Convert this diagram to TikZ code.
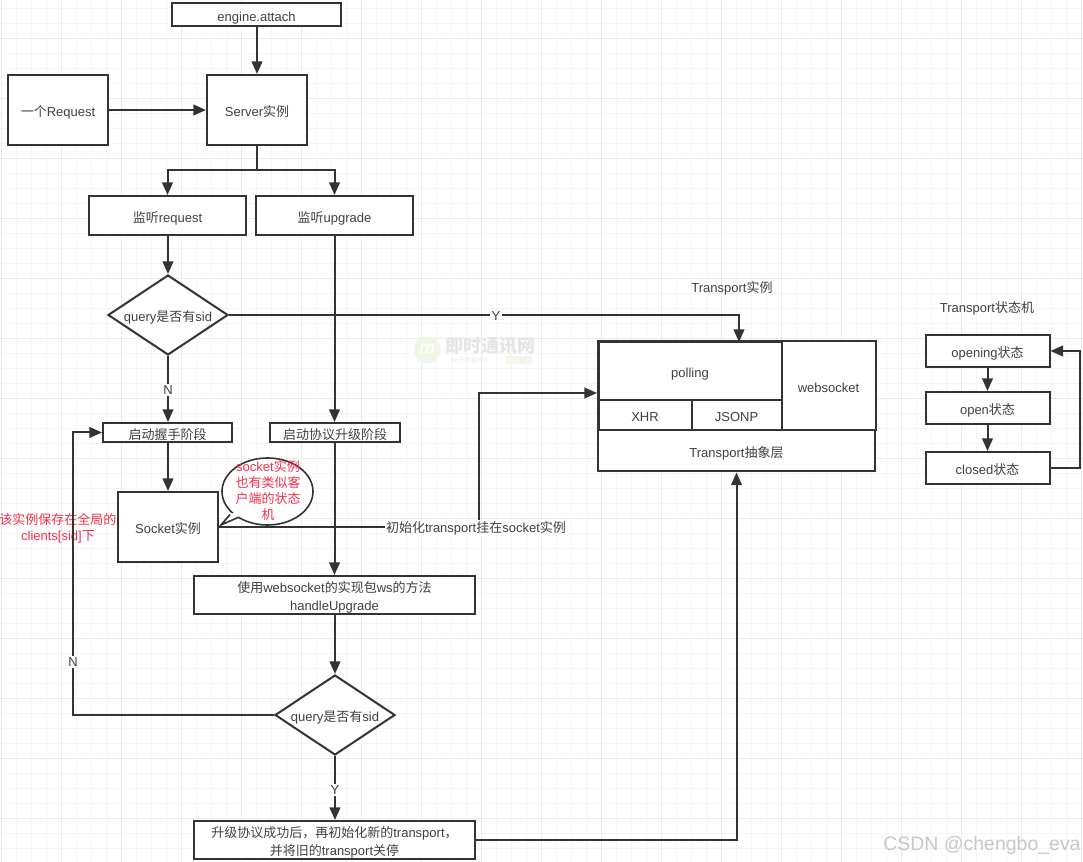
\documentclass[tikz,border=0pt]{standalone}
\usepackage{fontspec}
\setmainfont{Liberation Sans}
\newfontfamily\cjk{Noto Sans CJK SC}
\usetikzlibrary{arrows.meta,shapes.geometric,calc}
\definecolor{ink}{HTML}{333333}
\definecolor{txt}{HTML}{404040}
\definecolor{redtxt}{HTML}{F5304A}
\definecolor{gridminor}{HTML}{F5F5F5}
\definecolor{gridmajor}{HTML}{EBEBEB}
\definecolor{wmgreen}{HTML}{F0F6E6}
\newcommand{\Z}[1]{{\cjk #1}}
\tikzset{
  pxfont/.style={font=\fontsize{9.75pt}{12pt}\selectfont,text=txt},
  bxm/.style 2 args={draw=ink,line width=1.5pt,fill=white,rectangle,inner sep=0pt,
    minimum width=#1*0.75pt,minimum height=#2*0.75pt,pxfont,align=center},
  bx/.style 2 args={bxm={#1}{#2},text height=11pt,text depth=0.5pt},
  dm/.style={draw=ink,line width=1.5pt,fill=white,diamond,aspect=1.5,inner sep=0pt,
    minimum width=90pt,minimum height=60pt,pxfont,text height=10.5pt,text depth=0.5pt},
  conn/.style={draw=ink,line width=1.5pt},
  arr/.style={conn,-{Triangle[length=9.5pt,width=8pt]}},
  lab/.style={pxfont,fill=white,inner sep=1pt},
  plain/.style={pxfont,inner sep=0pt},
  redlab/.style={font=\fontsize{9.75pt}{12pt}\selectfont,text=redtxt,align=center,inner sep=0pt},
}
\begin{document}
\begin{tikzpicture}[x=0.75pt,y=-0.75pt]
\useasboundingbox (0,0) rectangle (1083,862);
\fill[white] (0,0) rectangle (1083,862);
% grid
\foreach \k in {0,...,71}{
  \pgfmathsetmacro{\gx}{1.7+15*\k}
  \draw[gridminor,line width=0.75pt] (\gx,0) -- (\gx,862);
}
\foreach \k in {0,...,57}{
  \pgfmathsetmacro{\gy}{8.3+15*\k}
  \draw[gridminor,line width=0.75pt] (0,\gy) -- (1083,\gy);
}
\foreach \k in {0,...,18}{
  \pgfmathsetmacro{\gx}{1.7+60*\k}
  \draw[gridmajor,line width=0.75pt] (\gx,0) -- (\gx,862);
}
\foreach \k in {0,...,14}{
  \pgfmathsetmacro{\gy}{38.3+60*\k-60}
  \draw[gridmajor,line width=0.75pt] (0,\gy) -- (1083,\gy);
}
% watermark
\fill[wmgreen] (427,350) circle[radius=13.5*0.75pt];
\node[inner sep=0pt,text=white,font=\bfseries\itshape\fontsize{13pt}{13pt}\selectfont] (wmm) at (427,349) {m};
\node[inner sep=0pt,text=black!10,font=\bfseries\fontsize{13.5pt}{14pt}\selectfont] (wm1) at (490,346) {\Z{即时通讯网}};
\node[inner sep=0pt,text=black!8,font=\fontsize{4.5pt}{5pt}\selectfont] (wm2) at (470,360) {IM\Z{开发者社区}};
\node[inner sep=1pt,rounded corners=1pt,fill=wmgreen,text=white,font=\fontsize{4.5pt}{5pt}\selectfont] (wm3) at (519,360) {52im.net};
\node[inner sep=0pt,text=black!22,font=\fontsize{14.6pt}{16pt}\selectfont] (csdn) at (982,845) {CSDN @chengbo\_eva};

% nodes
\node[bx={169}{23}] (attach) at (256.5,14.5) {engine.attach};
\node[bx={100}{70}] (req) at (58,110) {\Z{一个}Request};
\node[bx={100}{70}] (server) at (257,110) {Server\Z{实例}};
\node[bx={157}{39}] (lreq) at (167.5,215.5) {\Z{监听}request};
\node[bx={157}{39}] (lup) at (334.5,215.5) {\Z{监听}upgrade};
\node[dm] (q1) at (168,315) {query\Z{是否有}sid};
\node[bx={129}{19}] (hs) at (167.5,432.5) {\Z{启动握手阶段}};
\node[bx={130}{19}] (upst) at (335,432.5) {\Z{启动协议升级阶段}};
\node[bx={100}{70}] (sock) at (168,527) {Socket\Z{实例}};
\node[bxm={281}{38}] (ws) at (334.5,595) {\rule{0pt}{12pt}\Z{使用}websocket\Z{的实现包}ws\Z{的方法}\\[1pt]handleUpgrade};
\node[dm] (q2) at (335,715) {query\Z{是否有}sid};
\node[bxm={281}{38}] (done) at (334.5,840) {\rule{0pt}{12pt}\Z{升级协议成功后，再初始化新的}transport\Z{，}\\[1pt]\Z{并将旧的}transport\Z{关停}};

% speech bubble
\node[draw=ink,line width=1.2pt,fill=white,ellipse,inner sep=0pt,minimum width=68.25pt,minimum height=50.25pt] (bub) at (267.5,491.5) {};
\coordinate (tip) at (221,525);
\fill[white] (230,514) -- (tip) -- (238,517) -- (245,510) -- cycle;
\draw[ink,line width=1.2pt,line join=miter] (230,514.5) -- (tip) -- (238,517.5);
\node[redlab] (bubtxt) at (268,491) {socket\Z{实例}\\[0pt]\Z{也有类似客}\\\Z{户端的状态}\\\Z{机}};
\node[redlab] (note) at (58,528.5) {\Z{该实例保存在全局的}\\clients[sid]\Z{下}};

% transport block
\node[bx={277}{130}] (tr) at (736.5,406.5) {};
\node[bx={183}{58}] (poll) at (690,371) {polling};
\node[bx={93}{30}] (xhr) at (645,415) {XHR};
\node[bx={90}{30}] (jsonp) at (736.5,415) {JSONP};
\node[bx={94}{89}] (wsk) at (828.5,386) {websocket};
\node[bx={277}{41}] (abs) at (736.5,451) {Transport\Z{抽象层}};
\node[plain] (ttl) at (732,288) {Transport\Z{实例}};

% state machine
\node[plain] (ttl2) at (987,308) {Transport\Z{状态机}};
\node[bx={124}{32}] (s1) at (987.5,351) {opening\Z{状态}};
\node[bx={124}{32}] (s2) at (987.5,408) {open\Z{状态}};
\node[bx={124}{32}] (s3) at (987.5,468) {closed\Z{状态}};

% connectors
\draw[arr] (attach.south -| server) -- (server.north);
\draw[arr] (req) -- (server);
\coordinate (split) at (257,170);
\draw[conn] (server.south) -- (split);
\draw[arr] (split) -| (lreq.north);
\draw[arr] (split) -| (lup.north);
\draw[arr] (lreq.south -| q1) -- (q1.north);
\coordinate (ytarget) at (739,342);
\draw[arr] (q1.east) -| (ytarget);
\node[lab] (ylab) at (496,316) {Y};
\draw[arr] (q1.south) -- (hs.north -| q1);
\node[lab] (nlab1) at (168,390) {N};
\draw[arr] (lup.south) -- (upst.north -| lup);
\draw[arr] (hs.south -| sock) -- (sock.north);
\draw[arr] (upst.south -| ws) -- (ws.north);
\coordinate (bend) at (479,393);
\draw[arr] (sock.east) -| (bend) -- (bend -| tr.west);
\node[lab] (ilab) at (476,528) {\Z{初始化}transport\Z{挂在}socket\Z{实例}};
\coordinate (leftbend) at (73,715);
\draw[arr] (q2.west) -- (leftbend) |- (hs.west);
\node[lab] (nlab2) at (73,662) {N};
\draw[arr] (ws.south -| q2) -- (q2.north);
\draw[arr] (q2.south) -- (done.north -| q2);
\node[lab] (ylab2) at (335,790) {Y};
\draw[arr] (done.east) -| (abs.south);
\draw[arr] (s1.south) -- (s2.north);
\draw[arr] (s2.south) -- (s3.north);
\coordinate (rback) at (1080,468);
\draw[arr] (s3.east) -- (rback) |- (s1.east);
\end{tikzpicture}
\end{document}
